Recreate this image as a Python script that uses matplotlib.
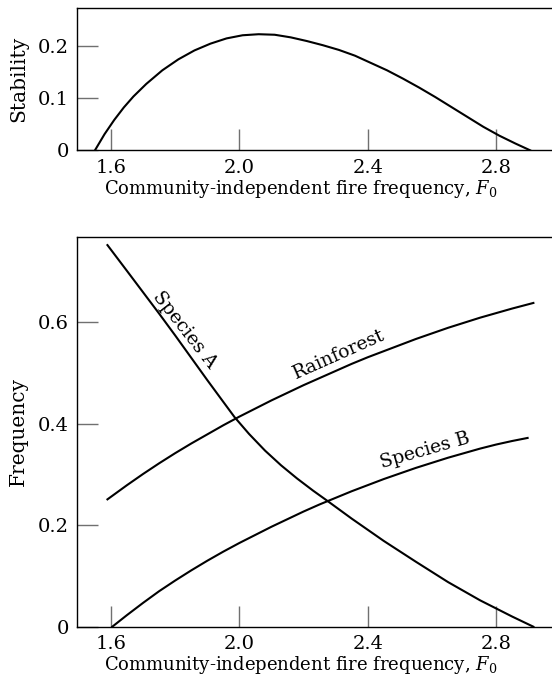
import matplotlib
matplotlib.use("Agg")
import matplotlib.pyplot as plt
from matplotlib.ticker import FixedLocator, FixedFormatter

plt.rcParams['font.family'] = 'DejaVu Serif'
plt.rcParams['mathtext.fontset'] = 'dejavuserif'

# stability curve (top panel)
stab_f = [1.550, 1.58, 1.61, 1.64, 1.67, 1.71, 1.76, 1.81, 1.86, 1.91,
          1.96, 2.01, 2.06, 2.11, 2.16, 2.21, 2.26, 2.31, 2.36, 2.41,
          2.46, 2.51, 2.56, 2.61, 2.66, 2.71, 2.76, 2.81, 2.86, 2.906]
stab_val = [0.0, 0.031, 0.058, 0.082, 0.103, 0.127, 0.153, 0.174, 0.191, 0.204,
            0.214, 0.220, 0.222, 0.221, 0.216, 0.209, 0.201, 0.192, 0.181, 0.167,
            0.153, 0.137, 0.120, 0.102, 0.083, 0.064, 0.045, 0.028, 0.013, 0.0]

# frequencies (bottom panel)
spa_f = [1.589, 1.65, 1.70, 1.75, 1.80, 1.85, 1.90, 1.95, 1.985, 2.03,
         2.08, 2.13, 2.18, 2.23, 2.272, 2.35, 2.45, 2.55, 2.65, 2.75,
         2.85, 2.916]
spa_val = [0.752, 0.701, 0.659, 0.617, 0.574, 0.530, 0.486, 0.443, 0.413, 0.380,
           0.347, 0.318, 0.292, 0.268, 0.249, 0.213, 0.169, 0.128, 0.088, 0.052,
           0.020, 0.0]

rain_f = [1.589, 1.65, 1.70, 1.75, 1.80, 1.85, 1.90, 1.95, 2.00, 2.05,
          2.10, 2.15, 2.20, 2.25, 2.30, 2.35, 2.40, 2.45, 2.50, 2.55,
          2.60, 2.65, 2.70, 2.75, 2.80, 2.85, 2.916]
rain_val = [0.251, 0.279, 0.301, 0.322, 0.342, 0.361, 0.379, 0.397, 0.414, 0.430,
            0.446, 0.461, 0.476, 0.490, 0.504, 0.518, 0.531, 0.543, 0.555, 0.567,
            0.578, 0.589, 0.599, 0.609, 0.618, 0.627, 0.638]

spb_f = [1.604, 1.65, 1.70, 1.75, 1.80, 1.85, 1.90, 1.95, 2.00, 2.05,
         2.10, 2.15, 2.20, 2.25, 2.30, 2.35, 2.40, 2.45, 2.50, 2.55,
         2.60, 2.65, 2.70, 2.75, 2.80, 2.85, 2.898]
spb_val = [0.0, 0.023, 0.047, 0.070, 0.091, 0.111, 0.130, 0.148, 0.165, 0.181,
           0.197, 0.212, 0.227, 0.241, 0.254, 0.267, 0.279, 0.291, 0.302, 0.313,
           0.323, 0.333, 0.342, 0.351, 0.359, 0.366, 0.372]

x_ticks = [1.6, 2.0, 2.4, 2.8]
x_labels = ['1.6', '2.0', '2.4', '2.8']
top_yticks = [0, 0.1, 0.2]
top_ylabels = ['0', '0.1', '0.2']
bot_yticks = [0, 0.2, 0.4, 0.6]
bot_ylabels = ['0', '0.2', '0.4', '0.6']

xlabel = 'Community-independent fire frequency, $F_0$'

fig = plt.figure(figsize=(5.52, 6.83), dpi=100)
ax1 = fig.add_axes([0.140, 0.7799, 0.860, 0.2079])
ax2 = fig.add_axes([0.140, 0.0824, 0.860, 0.5710])


def style(ax, yt, yl):
    ax.spines['right'].set_visible(False)
    for s in ['left', 'bottom', 'top']:
        ax.spines[s].set_linewidth(1.0)
    ax.set_xlim(1.495, 2.974)
    ax.xaxis.set_major_locator(FixedLocator(x_ticks))
    ax.xaxis.set_major_formatter(FixedFormatter(x_labels))
    ax.yaxis.set_major_locator(FixedLocator(yt))
    ax.yaxis.set_major_formatter(FixedFormatter(yl))
    ax.tick_params(direction='in', length=15, width=1.0, color='#707070',
                   labelsize=14)
    ax.tick_params(axis='x', pad=6)
    ax.tick_params(axis='y', pad=6)
    ax.set_xlabel(xlabel, fontsize=13, labelpad=1)
    ax.xaxis.label.set_x(0.47)


ax1.plot(stab_f, stab_val, color='black', lw=1.5)
style(ax1, top_yticks, top_ylabels)
ax1.set_ylim(0, 0.2715)
ax1.set_ylabel('Stability', fontsize=14.5, labelpad=7)

ax2.plot(spa_f, spa_val, color='black', lw=1.5)
ax2.plot(rain_f, rain_val, color='black', lw=1.5)
ax2.plot(spb_f, spb_val, color='black', lw=1.5)
style(ax2, bot_yticks, bot_ylabels)
ax2.set_ylim(0, 0.7685)
ax2.set_ylabel('Frequency', fontsize=14.5, labelpad=7)

ax2.text(1.830, 0.585, 'Species A', rotation=-52, fontsize=13.5,
         ha='center', va='center', rotation_mode='anchor')
ax2.text(2.311, 0.536, 'Rainforest', rotation=24, fontsize=13.5,
         ha='center', va='center', rotation_mode='anchor')
ax2.text(2.578, 0.348, 'Species B', rotation=16, fontsize=13.5,
         ha='center', va='center', rotation_mode='anchor')

fig.savefig('out.png', dpi=100)
